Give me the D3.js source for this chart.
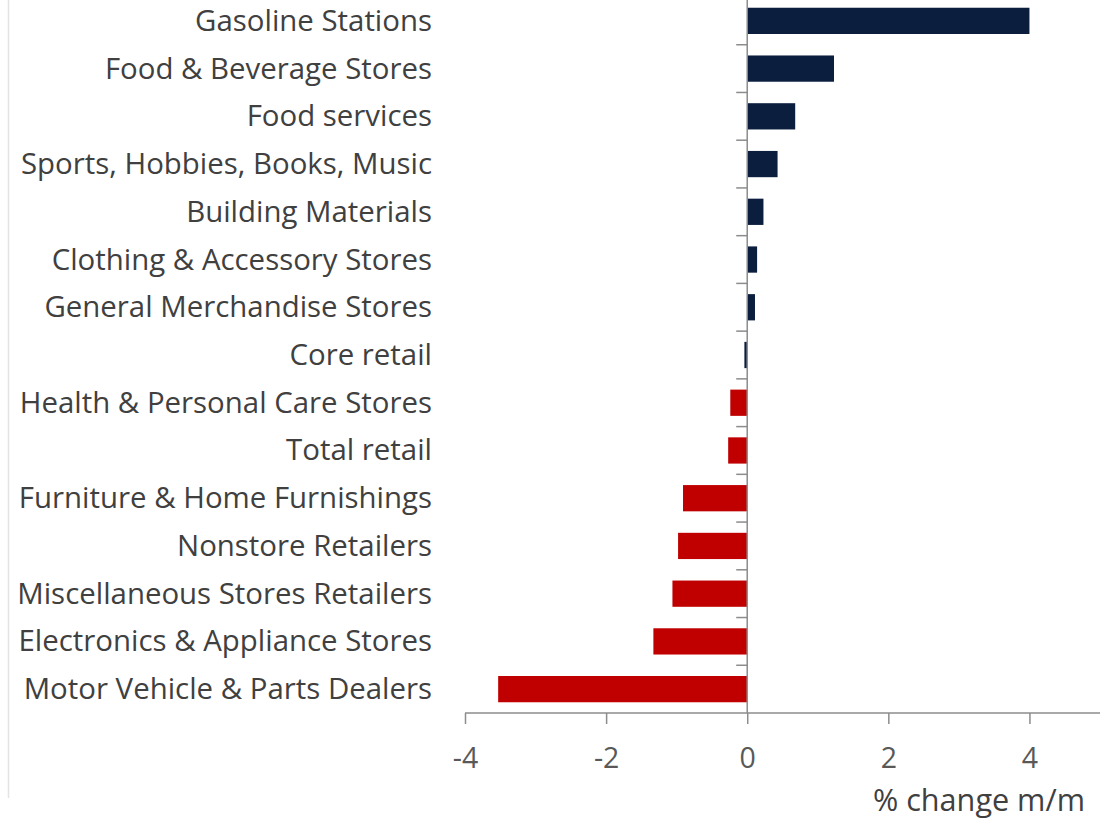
<!DOCTYPE html>
<html>
<head>
<meta charset="utf-8">
<script src="https://cdn.jsdelivr.net/npm/d3@7"></script>
<style>
  html, body { margin: 0; padding: 0; background: #fff; }
  svg { display: block; }
</style>
</head>
<body>
<svg id="chart" width="1120" height="823"></svg>
<script>
// Retail sales by category, % change m/m
const categories = [
  "Gasoline Stations",
  "Food & Beverage Stores",
  "Food services",
  "Sports, Hobbies, Books, Music",
  "Building Materials",
  "Clothing & Accessory Stores",
  "General Merchandise Stores",
  "Core retail",
  "Health & Personal Care Stores",
  "Total retail",
  "Furniture & Home Furnishings",
  "Nonstore Retailers",
  "Miscellaneous Stores Retailers",
  "Electronics & Appliance Stores",
  "Motor Vehicle & Parts Dealers"
];
const values = [4.0, 1.23, 0.68, 0.43, 0.23, 0.14, 0.11, -0.04, -0.24, -0.27, -0.91, -0.98, -1.06, -1.33, -3.53];
// colour group of each bar: "up" (navy) or "down" (red)
const groups = ["up", "up", "up", "up", "up", "up", "up", "up",
                "down", "down", "down", "down", "down", "down", "down"];
const xTicks = [-4, -2, 0, 2, 4];
const axisTitle = "% change m/m";

const svg = d3.select("#chart");
const colour = d3.scaleOrdinal().domain(["up", "down"]).range(["#0b1e3d", "#c00000"]);
const axisColor = "#8c8c8c";

const x = d3.scaleLinear().domain([-4, 5]).range([465, 1100]);
const y = d3.scaleBand().domain(categories).range([-3, 713])
  .paddingInner(0.45).paddingOuter(0.225);

// faint frame line on the left edge
svg.append("line").attr("x1", 8.5).attr("x2", 8.5).attr("y1", 0).attr("y2", 798)
  .attr("stroke", "#e4e4e4").attr("stroke-width", 1.5);

// bars
svg.append("g").selectAll("rect").data(categories).join("rect")
  .attr("x", (d, i) => x(Math.min(0, values[i])))
  .attr("width", (d, i) => Math.abs(x(values[i]) - x(0)))
  .attr("y", d => y(d))
  .attr("height", y.bandwidth())
  .attr("fill", (d, i) => colour(groups[i]));

// zero line with category separators
const step = y.step();
svg.append("line").attr("x1", x(0)).attr("x2", x(0)).attr("y1", 0).attr("y2", 713)
  .attr("stroke", axisColor).attr("stroke-width", 1.5);
svg.append("g").selectAll("line").data(categories.slice(1)).join("line")
  .attr("x1", x(0) - 11).attr("x2", x(0))
  .attr("y1", d => y(d) - step * 0.225).attr("y2", d => y(d) - step * 0.225)
  .attr("stroke", axisColor).attr("stroke-width", 1.5);

// category labels
svg.append("g").selectAll("text").data(categories).join("text")
  .attr("x", 432)
  .attr("y", d => y(d) + y.bandwidth() / 2 + 10)
  .attr("text-anchor", "end")
  .attr("font-family", "'Open Sans', sans-serif")
  .attr("font-size", 29.4)
  .attr("fill", "#404040")
  .text(d => d);

// x axis
const xAxis = svg.append("g").attr("transform", "translate(0,713)")
  .call(d3.axisBottom(x).tickValues(xTicks).tickSize(11).tickFormat(d3.format("d")));
xAxis.select(".domain").attr("stroke", axisColor).attr("stroke-width", 1.5)
  .attr("d", `M${x(-4)},0H${x(5)}`);
xAxis.selectAll(".tick line").attr("stroke", axisColor).attr("stroke-width", 1.5);
xAxis.selectAll(".tick text")
  .attr("y", 0).attr("dy", 55)
  .attr("font-family", "'Open Sans', sans-serif")
  .attr("font-size", 28.5)
  .attr("fill", "#595959")
  .text(d => d < 0 ? "-" + Math.abs(d) : d);

svg.append("text").attr("x", 1085).attr("y", 811)
  .attr("text-anchor", "end")
  .attr("font-family", "'Open Sans', sans-serif")
  .attr("font-size", 30.6)
  .attr("fill", "#404040")
  .text(axisTitle);
</script>
</body>
</html>
